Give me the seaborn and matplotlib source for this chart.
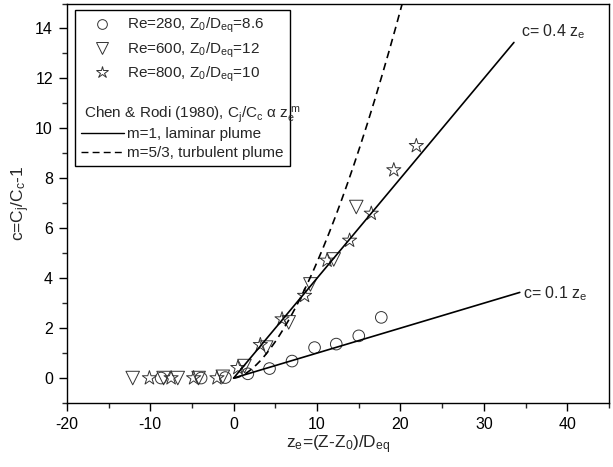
import numpy as np
import pandas as pd
import matplotlib
matplotlib.use("Agg")
import matplotlib.pyplot as plt
import seaborn as sns
from matplotlib.lines import Line2D
from matplotlib.ticker import MultipleLocator

# data
re280_x = [-8.7, -3.9, -1.0, 1.7, 4.3, 7.0, 9.7, 12.3, 15.0, 17.7]
re280_c = [0.0, 0.0, 0.02, 0.17, 0.38, 0.68, 1.22, 1.36, 1.69, 2.43]

re600_x = [-12.1, -8.4, -6.7, -4.2, -1.3, 1.3, 3.9, 6.6, 9.2, 12.0, 14.7]
re600_c = [0.0, 0.0, 0.0, 0.0, 0.05, 0.48, 1.22, 2.23, 3.75, 4.75, 6.85]

re800_x = [-10.1, -7.5, -4.8, -2.0, 0.5, 3.2, 5.8, 8.5, 11.2, 13.9, 16.5, 19.2, 21.9]
re800_c = [0.0, 0.0, 0.0, 0.0, 0.41, 1.33, 2.36, 3.30, 4.71, 5.51, 6.59, 8.33, 9.3]

# model lines (Chen & Rodi): c = k * z_e^m
lam_hi_k, lam_hi_xmax = 0.4, 33.6
lam_lo_k, lam_lo_xmax = 0.1, 34.3
turb_k, turb_m, turb_xmax = 0.1, 5.0 / 3.0, 21.0

sns.set_theme(style="ticks")
plt.rcParams["font.family"] = ["Liberation Sans", "DejaVu Sans"]
plt.rcParams["mathtext.fontset"] = "custom"
plt.rcParams["mathtext.rm"] = "Liberation Sans"
plt.rcParams["mathtext.it"] = "Liberation Sans"
plt.rcParams["mathtext.default"] = "regular"
plt.rcParams["axes.unicode_minus"] = False

fig = plt.figure(figsize=(6.13, 4.67), dpi=100)
ax = fig.add_axes([0.109, 0.137, 0.8845, 0.8555])

# model lines
zl = np.array([0.0, lam_hi_xmax])
sns.lineplot(x=zl, y=lam_hi_k * zl, ax=ax, color="black", lw=1.2)
zl2 = np.array([0.0, lam_lo_xmax])
sns.lineplot(x=zl2, y=lam_lo_k * zl2, ax=ax, color="black", lw=1.2)
zt = np.linspace(0, turb_xmax, 200)
sns.lineplot(x=zt, y=turb_k * zt ** turb_m, ax=ax, color="black", lw=1.2,
             linestyle=(0, (4.5, 3)))

mec = "#333333"
sns.scatterplot(x=re280_x, y=re280_c, ax=ax, marker="o", s=70,
                facecolors="none", edgecolor=mec, linewidth=0.7)
sns.scatterplot(x=re600_x, y=re600_c, ax=ax, marker="v", s=95,
                facecolors="none", edgecolor=mec, linewidth=0.7)
sns.scatterplot(x=re800_x, y=re800_c, ax=ax, marker="*", s=115,
                facecolors="none", edgecolor=mec, linewidth=0.7)

ax.set_xlim(-20, 45)
ax.set_ylim(-1, 15)
ax.xaxis.set_major_locator(MultipleLocator(10))
ax.xaxis.set_minor_locator(MultipleLocator(5))
ax.yaxis.set_major_locator(MultipleLocator(2))
ax.yaxis.set_minor_locator(MultipleLocator(1))
ax.tick_params(which="major", direction="out", length=6, width=1, labelsize=11.5,
               colors="black", pad=4)
ax.tick_params(which="minor", direction="out", length=3.5, width=1)
ax.tick_params(top=False, right=False)
for sp in ax.spines.values():
    sp.set_visible(True)
    sp.set_color("black")
    sp.set_linewidth(1.0)

ax.set_xlabel(r"z$_e$=(Z-Z$_0$)/D$_{eq}$", fontsize=12.5, labelpad=1)
ax.set_ylabel(r"c=C$_j$/C$_c$-1", fontsize=12.5, labelpad=2)

ax.text(lam_hi_xmax + 0.8, lam_hi_k * lam_hi_xmax + 0.45, r"c= 0.4 z$_e$",
        fontsize=11.5, ha="left", va="center")
ax.text(lam_lo_xmax + 0.4, lam_lo_k * lam_lo_xmax - 0.05, r"c= 0.1 z$_e$",
        fontsize=11.5, ha="left", va="center")

# legend
handles = [
    Line2D([], [], ls="", marker="o", ms=7, mfc="none", mec=mec, mew=0.7),
    Line2D([], [], ls="", marker="v", ms=8, mfc="none", mec=mec, mew=0.7),
    Line2D([], [], ls="", marker="*", ms=9, mfc="none", mec=mec, mew=0.7),
    Line2D([], [], ls="", marker=""),
    Line2D([], [], ls="", marker=""),
    Line2D([], [], color="black", lw=1.0),
    Line2D([], [], color="black", lw=1.0, linestyle=(0, (5, 3))),
]
labels = [
    r"Re=280, Z$_0$/D$_{eq}$=8.6",
    r"Re=600, Z$_0$/D$_{eq}$=12",
    r"Re=800, Z$_0$/D$_{eq}$=10",
    " ",
    " ",
    "m=1, laminar plume",
    "m=5/3, turbulent plume",
]
leg = ax.legend(handles, labels, loc="upper left", bbox_to_anchor=(0.015, 0.984),
                fontsize=11, frameon=True, fancybox=False, framealpha=1,
                edgecolor="black", borderpad=0.4, labelspacing=0.33,
                handlelength=2.8, handletextpad=0.2, borderaxespad=0)
leg.get_frame().set_linewidth(1.0)

fig.canvas.draw()
renderer = fig.canvas.get_renderer()
frame_bb = leg.get_frame().get_window_extent(renderer)
row_bb = leg.get_texts()[4].get_window_extent(renderer)
fx = (frame_bb.x0 + 9) / fig.bbox.width
fy = (row_bb.y0 + row_bb.y1) / 2 / fig.bbox.height
fig.text(fx, fy, r"Chen & Rodi (1980), C$_j$/C$_c$ $\alpha$ z$_e^{\ m}$",
         fontsize=11, ha="left", va="center")

fig.savefig("out.png", dpi=100)
